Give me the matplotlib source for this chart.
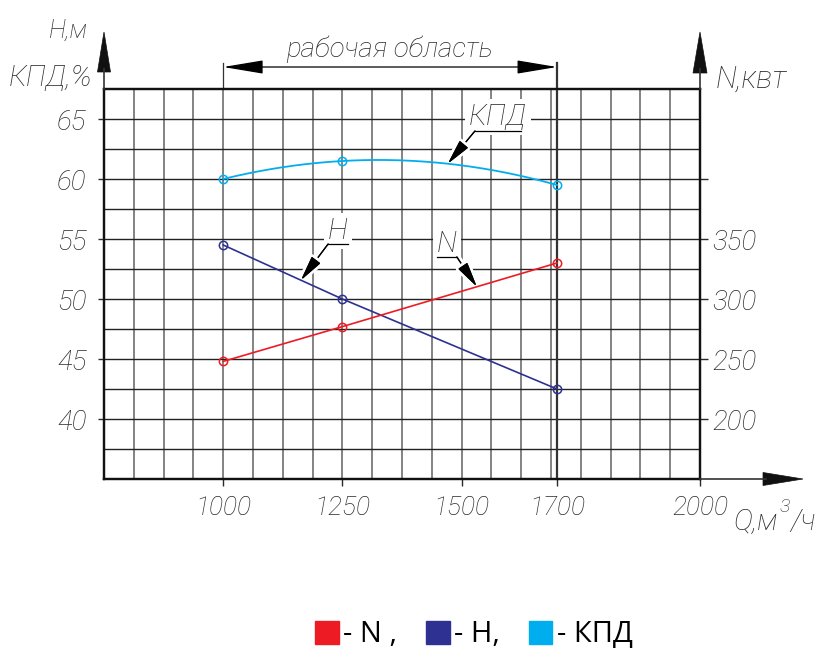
import numpy as np
import matplotlib
matplotlib.use("Agg")
import matplotlib.pyplot as plt
import matplotlib.patheffects as pe
from matplotlib.patches import Polygon, Patch
import matplotlib.transforms as mtransforms

# Pump characteristic: flow Q (m3/h) vs head H (m), power N (kW), efficiency (%)
q_points = [1000, 1250, 1700]
head_m = [54.5, 50.0, 42.5]
power_kw = [248, 277, 330]
efficiency_pct = [60.0, 61.5, 59.5]

q_ticks = [1000, 1250, 1500, 1700, 2000]
q_tick_labels = ["1000", "1250", "1500", "1700", "2000"]
left_ticks = [40, 45, 50, 55, 60, 65]
left_tick_labels = ["40", "45", "50", "55", "60", "65"]
right_ticks = [200, 250, 300, 350, 400]
right_tick_labels = ["200", "250", "300", "350", ""]

work_range = (1000, 1700)

RED = "#ED1C24"
BLUE = "#2E3192"
CYAN = "#00AEEF"

W, H = 817, 653
plt.rcParams["font.family"] = ["DejaVu Sans Condensed", "Roboto", "DejaVu Sans"]
plt.rcParams["font.style"] = "italic"
plt.rcParams["font.weight"] = "light"
plt.rcParams["font.stretch"] = "condensed"
INK = "#2a2a2a"


def fx(px):
    return px / W


def fy(py):
    return 1 - py / H


fig = plt.figure(figsize=(W / 100, H / 100), dpi=100)
ax = fig.add_axes([fx(104), fy(479), (700 - 104) / W, (479 - 89) / H])
ax.set_xlim(750, 2000)
ax.set_ylim(35, 67.5)
ax2 = ax.twinx()
ax2.set_ylim(150, 475)

# drawing-sheet grid
for v in np.arange(750 + 62.5, 2000, 62.5):
    ax.axvline(v, color="#7a7a7a", lw=1.3, zorder=1)
for h in np.arange(37.5, 67.5, 2.5):
    ax.axhline(h, color="#222222", lw=1.0, zorder=1)

for a in (ax, ax2):
    for s in a.spines.values():
        s.set_linewidth(1.6)
        s.set_color("#111111")

ax.set_xticks(q_ticks)
ax.set_xticklabels(q_tick_labels)
ax.set_yticks(left_ticks)
ax.set_yticklabels(left_tick_labels)
ax2.set_yticks(right_ticks)
ax2.set_yticklabels(right_tick_labels)
ax.tick_params(axis="x", direction="out", length=5, width=1, pad=7, labelsize=19, colors=INK)
ax.tick_params(axis="y", direction="out", length=4.5, width=1, pad=8, labelsize=20, colors=INK)
ax2.tick_params(axis="y", direction="out", length=6, width=1, pad=3, labelsize=20, colors=INK)

# curves
ax.plot(q_points, head_m, color=BLUE, lw=1.2, marker="o", ms=6, mfc="none", mew=1.1, zorder=8)
ax2.plot(q_points, power_kw, color=RED, lw=1.2, marker="o", ms=6, mfc="none", mew=1.1, zorder=8)
eff_fit = np.polyfit(q_points, efficiency_pct, 2)
q_dense = np.linspace(q_points[0], q_points[-1], 200)
ax.plot(q_dense, np.polyval(eff_fit, q_dense), color=CYAN, lw=1.3, zorder=8)
ax.plot(q_points, efficiency_pct, ls="none", color=CYAN, marker="o", ms=6, mfc="none", mew=1.1, zorder=8)

white_edge = [pe.withStroke(linewidth=5, foreground="white"), pe.Normal()]


def leader(a, text, tx, ty, ux0, ux1, uy, tip, start_right=False):
    a.text(tx, ty, text, ha="center", va="baseline", fontsize=21, color=INK, zorder=6,
           bbox=dict(fc="white", ec="none", pad=3))
    a.plot([ux0, ux1], [uy, uy], color="black", lw=0.9, zorder=7)
    start = (ux1 if start_right else ux0, uy)
    ann = a.annotate("", xy=tip, xytext=start,
                     arrowprops=dict(arrowstyle="-|>,head_length=1.3,head_width=0.28",
                                     color="black", lw=0.9, shrinkA=0, shrinkB=0,
                                     mutation_scale=12), zorder=6)
    ann.arrow_patch.set_path_effects(white_edge)


q_h = 1163
leader(ax, "H", 1241, 55.0, 1220, 1262, 54.58, (q_h, np.interp(q_h, q_points, head_m)))
q_n = 1532
leader(ax2, "N", 1469, 339, 1448, 1490, 335, (q_n, np.interp(q_n, q_points, power_kw)), start_right=True)
q_e = 1471
leader(ax, "КПД", 1576, 64.5, 1528, 1624, 64.0, (q_e, np.polyval(eff_fit, q_e)))

# working-range dimension
xt = ax.get_xaxis_transform()
ax.plot([work_range[0]] * 2, [1.0, 1.0667], transform=xt, color="#333", lw=0.9, clip_on=False)
ax.plot([work_range[1]] * 2, [0.0, 1.0667], transform=xt, color="#333", lw=1.6, clip_on=False, zorder=3)
ax.annotate("", xy=(work_range[1], 1.0564), xytext=(work_range[0], 1.0564), xycoords=xt, textcoords=xt,
            arrowprops=dict(arrowstyle="<|-|>,head_length=1.8,head_width=0.3", color="black", lw=0.9,
                            shrinkA=0, shrinkB=0, mutation_scale=14), annotation_clip=False)
ax.text(sum(work_range) / 2, 1.082, "рабочая область", transform=xt, ha="center", va="baseline",
        fontsize=20, color=INK)

# axis arrows (offsets in inches from an axes anchor)


def axis_arrow(anchor, shaft, head):
    t = fig.dpi_scale_trans + mtransforms.ScaledTranslation(anchor[0], anchor[1], ax.transAxes)
    fig.add_artist(plt.Line2D(*zip(*shaft), transform=t, color="#333", lw=1.2))
    fig.add_artist(Polygon(head, closed=True, transform=t, fc="#111", ec="#111", lw=0.5))


axis_arrow((0, 1), [(0, 0), (0, 0.2)], [(-0.065, 0.17), (0.065, 0.17), (0, 0.57)])
axis_arrow((1, 1), [(0, 0), (0, 0.2)], [(-0.07, 0.16), (0.07, 0.16), (0, 0.57)])
axis_arrow((1, 0), [(0, 0), (0.66, 0)], [(0.63, -0.065), (0.63, 0.065), (1.03, 0)])

# axis captions
fig.text(fx(88), fy(38), "H,м", ha="right", va="baseline", fontsize=18, color=INK)
fig.text(fx(92), fy(86), "КПД,%", ha="right", va="baseline", fontsize=21, color=INK)
fig.text(fx(716), fy(88), "N,квт", ha="left", va="baseline", fontsize=22, color=INK)
q_lab = fig.text(fx(733), fy(530), "Q,м", ha="left", va="baseline", fontsize=21, color=INK)
sup = ax.annotate("3", xy=(1.0, 0.0), xycoords=q_lab, xytext=(1.5, 17), textcoords="offset points",
                  ha="left", va="baseline", fontsize=14, color=INK, annotation_clip=False)
ax.annotate("/ч", xy=(1.0, 0.0), xycoords=(sup, q_lab), xytext=(0, 0), textcoords="offset points",
            ha="left", va="bottom", fontsize=21, color=INK, annotation_clip=False)

handles = [Patch(color=RED, label="- N ,"), Patch(color=BLUE, label="- H,"), Patch(color=CYAN, label="- КПД")]
fig.legend(handles=handles, loc="center", bbox_to_anchor=(fx(474), fy(635)), ncol=3, frameon=False,
           prop={"family": ["Open Sans", "DejaVu Sans"], "size": 21, "style": "normal",
                 "weight": "normal", "stretch": "normal"},
           handlelength=0.8, handleheight=0.8, handletextpad=0.15, columnspacing=1.0)

fig.savefig("out.png", dpi=100)
